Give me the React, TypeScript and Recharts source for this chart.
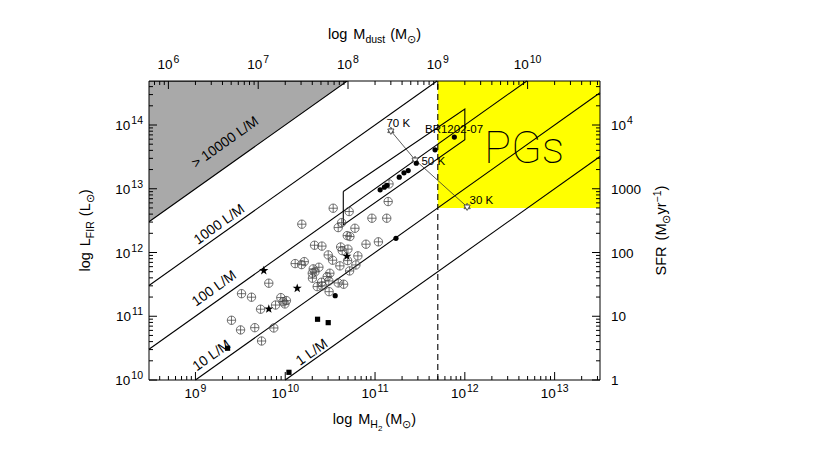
import {
  Label,
  ReferenceArea,
  ReferenceLine,
  Scatter,
  ScatterChart,
  XAxis,
  YAxis,
} from "recharts";

const FONT = "'Liberation Sans', Arial, Helvetica, sans-serif";
const INK = "#000";

// axis ranges (H2 mass in Msun, FIR luminosity in Lsun)
const M_MIN = 3.04e8;
const M_MAX = 3.2e13;
const L_MIN = 1e10;
const L_MAX = 4.9e14;
const GAS_TO_DUST = 500;
const L_PER_SFR = 1e10;

// crossed circles: local / low-z sample
const crossM = [
  3.42e10, 5.15e10, 1.4e11, 1.53e10, 4.25e10, 3.89e10, 5.97e10, 9.23e10, 1.35e11,
  4.9e10, 5.25e10, 2.12e10, 2.56e10, 4.14e10, 4.31e10, 4.99e10, 7.93e10, 1.09e11,
  3.01e10, 3.37e10, 4.95e10, 6.44e10, 1.29e10, 1.52e10, 1.63e10, 4.06e10, 6.12e10,
  5.21e10, 2.37e10, 2.05e10, 2.0e10, 2.14e10, 3.14e10, 2.93e10, 2.01e10, 2.54e10,
  3.06e10, 3.89e10, 4.47e10, 2.27e10, 2.58e10, 3.08e10, 6.56e9, 3.26e9, 4.21e9,
  5.31e9, 7.8e9, 8.93e9, 9.48e9, 1.03e10, 9.91e9, 2.52e9, 3.18e9, 4.58e9, 7.46e9,
  5.45e9, 1.43e11,
];
const crossL = [
  4.95e12, 4.39e12, 6.3e12, 2.78e12, 2.94e12, 2.46e12, 2.4e12, 3.45e12, 3.45e12,
  1.84e12, 1.78e12, 1.3e12, 1.26e12, 1.22e12, 1.07e12, 1.13e12, 1.35e12, 1.47e12,
  9.16e11, 7.57e11, 7.46e11, 8.85e11, 6.7e11, 6.46e11, 7.19e11, 6.17e11, 6.38e11,
  5.14e11, 5.87e11, 5.53e11, 4.73e11, 4.95e11, 4.73e11, 4.19e11, 3.95e11, 3.42e11,
  3.58e11, 3.33e11, 3.18e11, 2.92e11, 2.99e11, 2.43e11, 3.3e11, 2.26e11, 1.99e11,
  1.29e11, 1.5e11, 1.96e11, 1.69e11, 1.76e11, 1.56e11, 8.65e10, 6.1e10, 6.62e10,
  6.55e10, 4.09e10, 1.19e13,
];

// filled dots: high-z sources
const dotM = [1.71e11, 3.6e10, 1.14e11, 1.27e11, 1.36e11, 1.86e11, 2.1e11, 2.34e11, 2.88e11, 4.66e11, 7.64e11];
const dotL = [1.67e12, 2.1e11, 9.62e12, 1.06e13, 1.13e13, 1.52e13, 1.78e13, 1.93e13, 2.51e13, 4.08e13, 6.46e13];

// filled stars
const starM = [5.77e9, 1.36e10, 6.56e9, 4.86e10];
const starL = [5.2e11, 2.75e11, 1.3e11, 8.75e11];

// filled squares
const squareM = [2.28e9, 2.29e10, 3.01e10, 1.1e10];
const squareL = [3.15e10, 8.97e10, 7.94e10, 1.32e10];

// dust temperature track for BR1202-07
const tempM = [1.5e11, 2.79e11, 1.06e12];
const tempL = [8.11e13, 2.84e13, 5.2e12];

// box around the high-z objects
const boxM = [4.43e10, 1.0e12, 1.0e12, 4.43e10, 4.43e10];
const boxL = [9.04e12, 1.78e14, 5.86e13, 2.71e12, 9.04e12];

// constant L/M lines
const ratios = [1, 10, 100, 1000];
const greyRatio = 10000;
const pgMass = 5e11;
const pgLum = 5e12;

// line labels (text centre)
const ratioLabelText = ["> 10000 L/M", "1000 L/M", "100 L/M", "10 L/M", "1 L/M"];
const ratioLabelM = [2.12e9, 1.82e9, 1.6e9, 1.5e9, 1.96e10];
const ratioLabelL = [5.45e13, 2.81e12, 2.78e11, 2.47e10, 2.78e10];

// text annotations (left end of text)
const noteText = ["70 K", "50 K", "30 K", "BR1202-07"];
const noteM = [1.34e11, 3.29e11, 1.13e12, 3.6e11];
const noteL = [1.08e14, 2.74e13, 6.7e12, 8.7e13];
const pgsM = 4.57e12;
const pgsL = 4.38e13;

const pts = (xs: number[], ys: number[]) => xs.map((x, i) => ({ x, y: ys[i] }));

const crossData = pts(crossM, crossL);
const dotData = pts(dotM, dotL);
const starData = pts(starM, starL);
const squareData = pts(squareM, squareL);
const tempData = pts(tempM, tempL);
const boxData = pts(boxM, boxL);
const greyData = [
  { x: M_MIN, y: M_MIN * greyRatio },
  { x: L_MAX / greyRatio, y: L_MAX },
  { x: M_MIN, y: L_MAX },
];
const ratioLabelData = ratioLabelText.map((text, i) => ({ x: ratioLabelM[i], y: ratioLabelL[i], text }));
const noteData = noteText.map((text, i) => ({ x: noteM[i], y: noteL[i], text }));
const pgsData = [{ x: pgsM, y: pgsL, text: "PGs" }];

const lineSegments = ratios.map((k) => {
  const m1 = Math.max(M_MIN, L_MIN / k);
  const m2 = Math.min(M_MAX, L_MAX / k);
  return [
    { x: m1, y: m1 * k },
    { x: m2, y: m2 * k },
  ];
});

const logTicks = (lo: number, hi: number) => {
  const out: number[] = [];
  for (let e = Math.floor(Math.log10(lo)); e <= Math.ceil(Math.log10(hi)); e++) {
    for (let k = 1; k <= 9; k++) {
      const v = k * Math.pow(10, e);
      if (v >= lo && v <= hi) out.push(v);
    }
  }
  return out;
};

const isMajor = (v: number) => Math.abs(Math.log10(v) - Math.round(Math.log10(v))) < 1e-6;
const expOf = (v: number) => Math.round(Math.log10(v));

const MAJOR = 8;
const MINOR = 4;
const TICK_FS = 13.5;
const SUP_FS = 10.5;

const Pow = ({ v }: { v: number }) => (
  <>
    10
    <tspan dx={1} dy={-6} fontSize={SUP_FS}>
      {expOf(v)}
    </tspan>
  </>
);

const BottomTick = ({ x, y, payload }: any) => {
  const major = isMajor(payload.value);
  return (
    <g>
      <line x1={x} y1={y} x2={x} y2={y - (major ? MAJOR : MINOR)} stroke={INK} />
      {major && (
        <text x={x} y={y + 18} textAnchor="middle" fontSize={TICK_FS} fontFamily={FONT} fill={INK}>
          <Pow v={payload.value} />
        </text>
      )}
    </g>
  );
};

const TopTick = ({ x, y, payload }: any) => {
  const major = isMajor(payload.value);
  return (
    <g>
      <line x1={x} y1={y} x2={x} y2={y + (major ? MAJOR : MINOR)} stroke={INK} />
      {major && (
        <text x={x} y={y - 12} textAnchor="middle" fontSize={TICK_FS} fontFamily={FONT} fill={INK}>
          <Pow v={payload.value} />
        </text>
      )}
    </g>
  );
};

const LeftTick = ({ x, y, payload }: any) => {
  const major = isMajor(payload.value);
  return (
    <g>
      <line x1={x} y1={y} x2={x + (major ? MAJOR : MINOR)} y2={y} stroke={INK} />
      {major && (
        <text x={x - 6} y={y + 5} textAnchor="end" fontSize={TICK_FS} fontFamily={FONT} fill={INK}>
          <Pow v={payload.value} />
        </text>
      )}
    </g>
  );
};

const RightTick = ({ x, y, payload }: any) => {
  const v = payload.value;
  const major = isMajor(v);
  return (
    <g>
      <line x1={x} y1={y} x2={x - (major ? MAJOR : MINOR)} y2={y} stroke={INK} />
      {major && (
        <text x={x + 11} y={y + 5} textAnchor="start" fontSize={TICK_FS} fontFamily={FONT} fill={INK}>
          {v < 1e4 ? String(Math.round(v)) : <Pow v={v} />}
        </text>
      )}
    </g>
  );
};

const Nothing = () => <g />;

const CrossCircle = ({ cx, cy }: any) => (
  <g stroke="#444" strokeWidth={0.75} fill="none">
    <circle cx={cx} cy={cy} r={4.2} />
    <line x1={cx - 4.2} y1={cy} x2={cx + 4.2} y2={cy} />
    <line x1={cx} y1={cy - 4.2} x2={cx} y2={cy + 4.2} />
  </g>
);

const Dot = ({ cx, cy }: any) => <circle cx={cx} cy={cy} r={2.6} fill={INK} />;

const starPath = (cx: number, cy: number, R: number, r: number) => {
  let d = "";
  for (let i = 0; i < 10; i++) {
    const a = -Math.PI / 2 + (i * Math.PI) / 5;
    const rr = i % 2 === 0 ? R : r;
    d += `${i ? "L" : "M"}${(cx + rr * Math.cos(a)).toFixed(2)} ${(cy + rr * Math.sin(a)).toFixed(2)} `;
  }
  return d + "Z";
};

const Star = ({ cx, cy }: any) => <path d={starPath(cx, cy, 4.8, 1.9)} fill={INK} />;

const Square = ({ cx, cy }: any) => <rect x={cx - 2.6} y={cy - 2.6} width={5.2} height={5.2} fill={INK} />;

const triPath = (cx: number, cy: number, r: number, start: number) => {
  let d = "";
  for (let i = 0; i < 3; i++) {
    const a = ((start + i * 120) * Math.PI) / 180;
    d += `${i ? "L" : "M"}${(cx + r * Math.cos(a)).toFixed(2)} ${(cy + r * Math.sin(a)).toFixed(2)} `;
  }
  return d + "Z";
};

const TempMark = ({ cx, cy }: any) => (
  <g stroke="#333" strokeWidth={0.8} fill="#fff">
    <path d={triPath(cx, cy, 3.6, -90)} />
    <path d={triPath(cx, cy, 3.6, 90)} />
  </g>
);

const RatioLabel = ({ cx, cy, payload }: any) => (
  <text
    x={cx}
    y={cy}
    transform={`rotate(-35.4 ${cx} ${cy})`}
    textAnchor="middle"
    dominantBaseline="central"
    fontSize={14}
    fontFamily={FONT}
    fill={INK}
  >
    {payload.text}
  </text>
);

const Note = ({ cx, cy, payload }: any) => (
  <text x={cx} y={cy} dominantBaseline="central" fontSize={11.5} fontFamily={FONT} fill={INK}>
    {payload.text}
  </text>
);

const PgsText = ({ cx, cy, payload }: any) => (
  <text
    x={cx}
    y={cy}
    textAnchor="middle"
    dominantBaseline="central"
    fontSize={45}
    fontWeight={100}
    fontFamily="Roboto, Inter, sans-serif"
    fill={INK}
  >
    {payload.text}
  </text>
);

const TITLE_FS = 14.5;
const SUB_FS = 10.5;

const BottomTitle = ({ viewBox }: any) => (
  <text x={viewBox.x + viewBox.width / 2} y={viewBox.y + 44} textAnchor="middle" fontSize={TITLE_FS} fontFamily={FONT} fill={INK}>
    log
    <tspan dx={6}>M</tspan>
    <tspan dy={4} fontSize={SUB_FS}>H</tspan>
    <tspan dy={3} fontSize={8}>2</tspan>
    <tspan dx={3} dy={-7} fontSize={TITLE_FS}>(M</tspan>
    <tspan dy={4} fontSize={SUB_FS}>{"\u2299"}</tspan>
    <tspan dy={-4} fontSize={TITLE_FS}>)</tspan>
  </text>
);

const TopTitle = ({ viewBox }: any) => (
  <text x={viewBox.x + viewBox.width / 2} y={viewBox.y + 18} textAnchor="middle" fontSize={TITLE_FS} fontFamily={FONT} fill={INK}>
    log
    <tspan dx={6}>M</tspan>
    <tspan dy={4} fontSize={SUB_FS}>dust</tspan>
    <tspan dx={5} dy={-4} fontSize={TITLE_FS}>(M</tspan>
    <tspan dy={4} fontSize={SUB_FS}>{"\u2299"}</tspan>
    <tspan dy={-4} fontSize={TITLE_FS}>)</tspan>
  </text>
);

const LeftTitle = ({ viewBox }: any) => {
  const x = viewBox.x + 41;
  const y = viewBox.y + viewBox.height / 2;
  return (
    <text x={x} y={y} transform={`rotate(-90 ${x} ${y})`} textAnchor="middle" fontSize={TITLE_FS} fontFamily={FONT} fill={INK}>
      log
      <tspan dx={6}>L</tspan>
      <tspan dy={4} fontSize={SUB_FS}>FIR</tspan>
      <tspan dx={5} dy={-4} fontSize={TITLE_FS}>(L</tspan>
      <tspan dy={4} fontSize={SUB_FS}>{"\u2299"}</tspan>
      <tspan dy={-4} fontSize={TITLE_FS}>)</tspan>
    </text>
  );
};

const RightTitle = ({ viewBox }: any) => {
  const x = viewBox.x + 66;
  const y = viewBox.y + viewBox.height / 2;
  return (
    <text x={x} y={y} transform={`rotate(-90 ${x} ${y})`} textAnchor="middle" fontSize={TITLE_FS} fontFamily={FONT} fill={INK}>
      SFR
      <tspan dx={6}>(M</tspan>
      <tspan dy={4} fontSize={SUB_FS}>{"\u2299"}</tspan>
      <tspan dy={-4} fontSize={TITLE_FS}>yr</tspan>
      <tspan dy={-5} fontSize={SUB_FS}>{"\u22121"}</tspan>
      <tspan dy={5} fontSize={TITLE_FS}>)</tspan>
    </text>
  );
};

export default function App() {
  const ax = { xAxisId: "m", yAxisId: "l" };
  return (
    <div style={{ position: "absolute", left: 0, top: 0, width: 823, height: 457, background: "#fff" }}>
      <ScatterChart width={823} height={457} margin={{ top: 21, right: 123, bottom: 17, left: 49 }}>
        <ReferenceArea
          {...ax}
          x1={pgMass}
          x2={M_MAX}
          y1={pgLum}
          y2={L_MAX}
          fill="#ffff00"
          fillOpacity={1}
          stroke="none"
          ifOverflow="visible"
          zIndex={-20}
        />

        <Scatter
          {...ax}
          data={greyData}
          shape={Nothing}
          line={{ stroke: INK, strokeWidth: 1.1, fill: "#a9a9a9" }}
          isAnimationActive={false}
          zIndex={-10}
        />

        <XAxis
          xAxisId="m"
          dataKey="x"
          type="number"
          scale="log"
          domain={[M_MIN, M_MAX]}
          allowDataOverflow
          ticks={logTicks(M_MIN, M_MAX)}
          interval={0}
          orientation="bottom"
          height={60}
          tickSize={0}
          tickMargin={0}
          tickLine={false}
          tick={BottomTick}
          axisLine={{ stroke: INK }}
        >
          <Label content={BottomTitle} />
        </XAxis>
        <XAxis
          xAxisId="dust"
          dataKey="x"
          type="number"
          scale="log"
          domain={[M_MIN / GAS_TO_DUST, M_MAX / GAS_TO_DUST]}
          allowDataOverflow
          ticks={logTicks(M_MIN / GAS_TO_DUST, M_MAX / GAS_TO_DUST)}
          interval={0}
          orientation="top"
          height={60}
          tickSize={0}
          tickMargin={0}
          tickLine={false}
          tick={TopTick}
          axisLine={{ stroke: INK }}
        >
          <Label content={TopTitle} />
        </XAxis>
        <YAxis
          yAxisId="l"
          dataKey="y"
          type="number"
          scale="log"
          domain={[L_MIN, L_MAX]}
          allowDataOverflow
          ticks={logTicks(L_MIN, L_MAX)}
          interval={0}
          orientation="left"
          width={100}
          tickSize={0}
          tickMargin={0}
          tickLine={false}
          tick={LeftTick}
          axisLine={{ stroke: INK }}
        >
          <Label content={LeftTitle} />
        </YAxis>
        <YAxis
          yAxisId="sfr"
          dataKey="y"
          type="number"
          scale="log"
          domain={[L_MIN / L_PER_SFR, L_MAX / L_PER_SFR]}
          allowDataOverflow
          ticks={logTicks(L_MIN / L_PER_SFR, L_MAX / L_PER_SFR)}
          interval={0}
          orientation="right"
          width={100}
          tickSize={0}
          tickMargin={0}
          tickLine={false}
          tick={RightTick}
          axisLine={{ stroke: INK }}
        >
          <Label content={RightTitle} />
        </YAxis>

        {lineSegments.map((seg, i) => (
          <ReferenceLine key={i} {...ax} segment={seg} stroke={INK} strokeWidth={1.1} ifOverflow="visible" />
        ))}
        <ReferenceLine {...ax} x={pgMass} stroke={INK} strokeWidth={1.1} strokeDasharray="6 4" ifOverflow="visible" />

        <Scatter {...ax} data={boxData} shape={Nothing} line={{ stroke: INK, strokeWidth: 1.1 }} isAnimationActive={false} />
        <Scatter {...ax} data={tempData} shape={TempMark} line={{ stroke: "#333", strokeWidth: 0.8 }} isAnimationActive={false} />

        <Scatter {...ax} data={crossData} shape={CrossCircle} isAnimationActive={false} />
        <Scatter {...ax} data={dotData} shape={Dot} isAnimationActive={false} />
        <Scatter {...ax} data={starData} shape={Star} isAnimationActive={false} />
        <Scatter {...ax} data={squareData} shape={Square} isAnimationActive={false} />

        <Scatter {...ax} data={ratioLabelData} shape={RatioLabel} isAnimationActive={false} />
        <Scatter {...ax} data={noteData} shape={Note} isAnimationActive={false} />
        <Scatter {...ax} data={pgsData} shape={PgsText} isAnimationActive={false} />
      </ScatterChart>
    </div>
  );
}
